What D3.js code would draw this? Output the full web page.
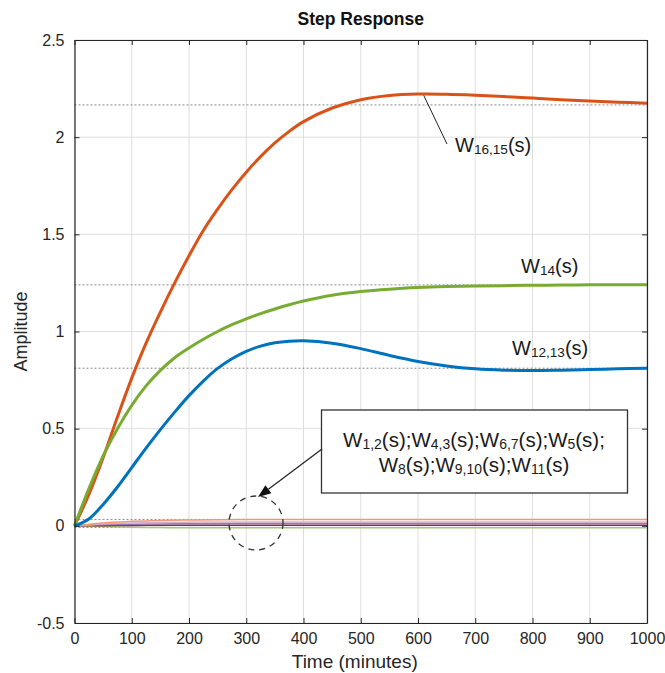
<!DOCTYPE html>
<html>
<head>
<meta charset="utf-8">
<script src="https://cdn.jsdelivr.net/npm/d3@7/dist/d3.min.js"></script>
<style>
html,body{margin:0;padding:0;background:#fff;}
svg{display:block;font-family:"Liberation Sans",Arial,sans-serif;}
</style>
</head>
<body>
<svg id="chart" width="665" height="673"></svg>
<script>
// ---- data ----
const xTicks = [0,100,200,300,400,500,600,700,800,900,1000];
const yTicks = [-0.5,0,0.5,1,1.5,2,2.5];
const tMain = [0,25,50,75,100,125,150,175,200,225,250,275,300,325,350,375,400,450,500,550,600,650,700,750,800,850,900,950,1000];
const w1615 = [0,0.16,0.35,0.56,0.76,0.94,1.10,1.25,1.39,1.52,1.63,1.73,1.82,1.90,1.97,2.03,2.08,2.150,2.193,2.215,2.222,2.221,2.216,2.209,2.201,2.193,2.186,2.180,2.175];
const w14 = [0,0.19,0.36,0.50,0.62,0.72,0.80,0.865,0.915,0.96,1.00,1.035,1.065,1.092,1.116,1.138,1.157,1.187,1.206,1.218,1.226,1.231,1.234,1.236,1.238,1.239,1.24,1.24,1.24];
const w1213 = [0,0.035,0.11,0.20,0.30,0.40,0.495,0.585,0.67,0.745,0.81,0.86,0.898,0.925,0.942,0.95,0.952,0.94,0.912,0.877,0.846,0.823,0.808,0.801,0.799,0.801,0.804,0.808,0.811];
const tSmall = [0,50,100,150,200,300,1000];
const smallA = [0,0.015,0.023,0.028,0.030,0.032,0.032];
const smallB = [0,0.009,0.014,0.017,0.019,0.020,0.020];
const smallC = [0,0.005,0.008,0.010,0.011,0.012,0.012];
const smallD = [0,0.001,0.002,0.003,0.003,0.003,0.003];
const smallE = [0,-0.004,-0.007,-0.009,-0.010,-0.010,-0.010];
const steadyStates = [2.166,1.24,0.811,0.033,-0.009];

const mainSeries = [
  {vals:w1615, color:"#D95319"},
  {vals:w14, color:"#77AC30"},
  {vals:w1213, color:"#0072BD"}
];
const smallSeries = [
  {vals:smallE, color:"#A2CB72"},
  {vals:smallD, color:"#8C2D3C"},
  {vals:smallC, color:"#9A72B0"},
  {vals:smallB, color:"#D3AED8"},
  {vals:smallA, color:"#EE9A70"}
];

// ---- layout ----
const svg = d3.select("#chart");
const L = 74.5, R = 647, T = 40, B = 623;
const x = d3.scaleLinear().domain([0,1000]).range([L,R]);
const y = d3.scaleLinear().domain([-0.5,2.5]).range([B,T]);
const axisColor = "#262626";

// grid
const grid = svg.append("g");
grid.selectAll(".gx").data(xTicks).join("line")
  .attr("x1",d=>x(d)).attr("x2",d=>x(d)).attr("y1",T).attr("y2",B)
  .attr("stroke","#dedede").attr("stroke-width",1);
grid.selectAll(".gy").data(yTicks).join("line")
  .attr("x1",L).attr("x2",R).attr("y1",d=>y(d)).attr("y2",d=>y(d))
  .attr("stroke","#dedede").attr("stroke-width",1);

// steady-state dotted lines
svg.append("g").selectAll("line").data(steadyStates).join("line")
  .attr("x1",L).attr("x2",R).attr("y1",d=>y(d)).attr("y2",d=>y(d))
  .attr("stroke","#8a8a8a").attr("stroke-width",1).attr("stroke-dasharray","2,2");

// lines
const line = d3.line().curve(d3.curveCatmullRom.alpha(0.5));
const plot = svg.append("g");
smallSeries.forEach(s=>{
  plot.append("path")
    .attr("d", line(tSmall.map((t,i)=>[x(t), y(s.vals[i])])))
    .attr("fill","none").attr("stroke",s.color).attr("stroke-width",1.5);
});
mainSeries.forEach(s=>{
  plot.append("path")
    .attr("d", line(tMain.map((t,i)=>[x(t), y(s.vals[i])])))
    .attr("fill","none").attr("stroke",s.color).attr("stroke-width",3)
    .attr("stroke-linejoin","round");
});

// axes (MATLAB-style box with inward ticks)
const ax = svg.append("g");
ax.append("g").attr("transform",`translate(0,${B})`)
  .call(d3.axisBottom(x).tickValues(xTicks).tickSizeInner(-5).tickSizeOuter(0).tickPadding(10).tickFormat(d3.format("d")));
ax.append("g").attr("transform",`translate(0,${T})`)
  .call(d3.axisTop(x).tickValues(xTicks).tickSizeInner(-5).tickSizeOuter(0).tickFormat(""));
ax.append("g").attr("transform",`translate(${L},0)`)
  .call(d3.axisLeft(y).tickValues(yTicks).tickSizeInner(-5).tickSizeOuter(0).tickPadding(10).tickFormat(d=>String(d)));
ax.append("g").attr("transform",`translate(${R},0)`)
  .call(d3.axisRight(y).tickValues(yTicks).tickSizeInner(-5).tickSizeOuter(0).tickFormat(""));
ax.selectAll(".domain").attr("stroke",axisColor).attr("stroke-width",1.2);
ax.selectAll(".tick line").attr("stroke",axisColor);
ax.selectAll(".tick text").attr("fill",axisColor).style("font-size","16px")
  .style("font-family","'Liberation Sans',Arial,sans-serif");

// title & labels
svg.append("text").attr("x",(L+R)/2).attr("y",25).attr("text-anchor","middle")
  .style("font-size","17.5px").style("font-weight","bold").attr("fill","#111").text("Step Response");
svg.append("text").attr("x",(L+R)/2 - 6).attr("y",668).attr("text-anchor","middle")
  .style("font-size","19px").attr("fill",axisColor).text("Time (minutes)");
svg.append("text").attr("transform",`translate(27,${(T+B)/2}) rotate(-90)`).attr("text-anchor","middle")
  .style("font-size","18px").attr("fill",axisColor).text("Amplitude");

// annotation helper
function wLabel(g, xPos, yPos, parts, size, anchor){
  const t = g.append("text").attr("x",xPos).attr("y",yPos).attr("text-anchor",anchor||"start")
    .attr("fill","#1a1a1a").style("font-size",size+"px");
  parts.forEach(p=>{
    t.append("tspan").text("W").style("font-size",size+"px");
    t.append("tspan").text(p[0]).style("font-size",(size*0.68)+"px").attr("dy",2);
    t.append("tspan").text("(s)"+(p[1]||"")).style("font-size",size+"px").attr("dy",-2);
  });
  return t;
}
const ann = svg.append("g");
// W16,15 leader
ann.append("line").attr("x1",x(610)).attr("y1",y(2.215)).attr("x2",447).attr("y2",144)
  .attr("stroke","#222").attr("stroke-width",1);
wLabel(ann,455,152,[["16,15"]],20);
wLabel(ann,521,273,[["14"]],20);
wLabel(ann,512,355,[["12,13"]],20);

// box annotation
ann.append("rect").attr("x",321.5).attr("y",410).attr("width",306).attr("height",83)
  .attr("fill","#fff").attr("stroke","#333").attr("stroke-width",1.3);
wLabel(ann,474,447,[["1,2",";"],["4,3",";"],["6,7",";"],["5",";"]],20.5,"middle");
wLabel(ann,474,472,[["8",";"],["9,10",";"],["11"]],20.5,"middle");

// arrow
const ax1 = 322, ay1 = 449, ax2 = 258, ay2 = 497;
const ang = Math.atan2(ay2-ay1, ax2-ax1);
const hl = 13, hw = 5;
const bx = ax2 - hl*Math.cos(ang), by = ay2 - hl*Math.sin(ang);
ann.append("line").attr("x1",ax1).attr("y1",ay1).attr("x2",bx).attr("y2",by)
  .attr("stroke","#222").attr("stroke-width",1.2);
ann.append("path")
  .attr("d",`M${ax2},${ay2}L${bx - hw*Math.sin(ang)},${by + hw*Math.cos(ang)}L${bx + hw*Math.sin(ang)},${by - hw*Math.cos(ang)}Z`)
  .attr("fill","#111");
// dashed circle
ann.append("circle").attr("cx",256).attr("cy",523).attr("r",27)
  .attr("fill","none").attr("stroke","#333").attr("stroke-width",1.3).attr("stroke-dasharray","6,5");
</script>
</body>
</html>
